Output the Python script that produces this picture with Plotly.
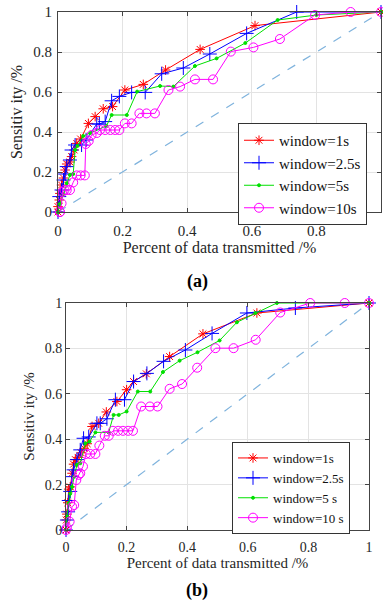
import plotly.graph_objects as go

# ---------------- data: panel (a) ----------------
a_1s_x = [0, 0.0, 0.004, 0.006, 0.011, 0.017, 0.022, 0.027, 0.037, 0.042, 0.05, 0.058, 0.07, 0.094, 0.115, 0.14, 0.169, 0.207, 0.264, 0.333, 0.44, 0.61, 1.0]
a_1s_y = [0, 0.027, 0.06, 0.093, 0.135, 0.17, 0.21, 0.24, 0.25, 0.277, 0.31, 0.343, 0.365, 0.443, 0.477, 0.516, 0.527, 0.61, 0.638, 0.71, 0.813, 0.932, 1.0]

a_25s_x = [0, 0.004, 0.011, 0.017, 0.022, 0.027, 0.037, 0.042, 0.053, 0.073, 0.087, 0.12, 0.128, 0.146, 0.166, 0.19, 0.228, 0.27, 0.321, 0.388, 0.47, 0.584, 0.739, 1.0]
a_25s_y = [0, 0.077, 0.11, 0.16, 0.19, 0.227, 0.26, 0.31, 0.335, 0.335, 0.36, 0.44, 0.44, 0.452, 0.556, 0.578, 0.598, 0.598, 0.691, 0.72, 0.79, 0.893, 1.0, 1.0]

a_5s_x = [0, 0.006, 0.017, 0.027, 0.037, 0.047, 0.053, 0.06, 0.078, 0.1, 0.15, 0.166, 0.213, 0.245, 0.316, 0.357, 0.424, 0.491, 0.58, 0.68, 0.8, 1.0]
a_5s_y = [0, 0.04, 0.09, 0.144, 0.185, 0.19, 0.31, 0.33, 0.38, 0.395, 0.43, 0.485, 0.485, 0.602, 0.63, 0.627, 0.73, 0.768, 0.845, 0.96, 0.985, 1.0]

a_10s_x = [0.006, 0.006, 0.011, 0.014, 0.02, 0.027, 0.037, 0.047, 0.058, 0.07, 0.083, 0.086, 0.095, 0.104, 0.12, 0.13, 0.146, 0.162, 0.177, 0.19, 0.207, 0.228, 0.252, 0.274, 0.3, 0.342, 0.378, 0.424, 0.48, 0.535, 0.605, 0.687, 0.796, 0.906, 1.0]
a_10s_y = [0, 0.0, 0.043, 0.1, 0.11, 0.11, 0.11, 0.148, 0.183, 0.183, 0.183, 0.34, 0.355, 0.385, 0.395, 0.41, 0.41, 0.41, 0.41, 0.41, 0.443, 0.443, 0.493, 0.493, 0.493, 0.61, 0.627, 0.663, 0.663, 0.802, 0.823, 0.865, 0.985, 1.0, 1.0]

# ---------------- data: panel (b) ----------------
b_1s_x = [0, 0.001, 0.003, 0.006, 0.009, 0.014, 0.02, 0.025, 0.031, 0.04, 0.05, 0.06, 0.07, 0.086, 0.108, 0.133, 0.168, 0.2, 0.223, 0.265, 0.342, 0.452, 0.63, 1.0]
b_1s_y = [0, 0.044, 0.07, 0.12, 0.18, 0.19, 0.25, 0.29, 0.31, 0.32, 0.34, 0.36, 0.38, 0.456, 0.47, 0.52, 0.566, 0.618, 0.654, 0.688, 0.764, 0.864, 0.956, 1.0]

b_25s_x = [0, 0.003, 0.007, 0.009, 0.014, 0.02, 0.025, 0.036, 0.047, 0.058, 0.075, 0.102, 0.113, 0.135, 0.163, 0.193, 0.223, 0.267, 0.322, 0.394, 0.482, 0.597, 0.757, 1.0]
b_25s_y = [0, 0.044, 0.08, 0.13, 0.17, 0.235, 0.265, 0.31, 0.353, 0.404, 0.41, 0.47, 0.47, 0.49, 0.574, 0.574, 0.654, 0.69, 0.743, 0.793, 0.866, 0.956, 0.978, 1.0]

b_5s_x = [0, 0.003, 0.009, 0.014, 0.02, 0.027, 0.036, 0.047, 0.064, 0.078, 0.097, 0.141, 0.157, 0.174, 0.2, 0.237, 0.278, 0.32, 0.375, 0.434, 0.507, 0.564, 0.625, 0.696, 1.0]
b_5s_y = [0, 0.06, 0.118, 0.16, 0.19, 0.235, 0.287, 0.294, 0.382, 0.39, 0.43, 0.43, 0.507, 0.507, 0.522, 0.61, 0.61, 0.696, 0.746, 0.783, 0.835, 0.915, 0.956, 1.0, 1.0]

b_10s_x = [0, 0.003, 0.012, 0.02, 0.027, 0.034, 0.042, 0.047, 0.056, 0.066, 0.08, 0.097, 0.11, 0.128, 0.141, 0.155, 0.172, 0.188, 0.205, 0.221, 0.248, 0.277, 0.302, 0.342, 0.383, 0.433, 0.493, 0.553, 0.626, 0.707, 0.806, 0.92, 1.0]
b_10s_y = [0, 0.01, 0.037, 0.103, 0.11, 0.22, 0.243, 0.25, 0.28, 0.335, 0.335, 0.335, 0.372, 0.415, 0.415, 0.437, 0.437, 0.437, 0.437, 0.437, 0.544, 0.544, 0.544, 0.622, 0.643, 0.715, 0.801, 0.801, 0.838, 0.958, 1.0, 1.0, 1.0]

diag_x = [0, 1]
diag_y = [0, 1]

tick_vals = [0, 0.2, 0.4, 0.6, 0.8, 1]
tick_text = ["0", "0.2", "0.4", "0.6", "0.8", "1"]

series_names = ["window=1s", "window=2.5s", "window=5s", "window=10s"]
series_names_b = ["window=1s", "window=2.5s", "window=5 s", "window=10 s"]

# ---------------- styling ----------------
W, H = 383, 604
SERIF = "Liberation Serif, Times New Roman, serif"
styles = [
    dict(color="#FF0000", symbol="asterisk-open", size=8),
    dict(color="#0000FF", symbol="cross-thin-open", size=10),
    dict(color="#00E000", symbol="circle", size=3),
    dict(color="#FF00FF", symbol="circle-open", size=9),
]

fig = go.Figure()

panels = [
    (["x", "y"], [(a_1s_x, a_1s_y), (a_25s_x, a_25s_y), (a_5s_x, a_5s_y), (a_10s_x, a_10s_y)], "legend", series_names),
    (["x2", "y2"], [(b_1s_x, b_1s_y), (b_25s_x, b_25s_y), (b_5s_x, b_5s_y), (b_10s_x, b_10s_y)], "legend2", series_names_b),
]

for (xa, ya), series, leg, names in panels:
    fig.add_trace(go.Scatter(x=diag_x, y=diag_y, mode="lines", xaxis=xa, yaxis=ya,
                             line=dict(color="#7FB3DD", width=1.2, dash="dash"),
                             showlegend=False, hoverinfo="skip"))
    for (sx, sy), st, nm in zip(series, styles, names):
        mk = dict(symbol=st["symbol"], size=st["size"], color=st["color"],
                  line=dict(color=st["color"], width=1))
        fig.add_trace(go.Scatter(x=sx, y=sy, mode="lines+markers", name=nm,
                                 xaxis=xa, yaxis=ya, legend=leg, cliponaxis=False,
                                 line=dict(color=st["color"], width=1), marker=mk))

axis_common = dict(range=[0, 1], tickvals=tick_vals, ticktext=tick_text,
                   showgrid=True, gridcolor="#E3E3E3", gridwidth=1,
                   zeroline=False, showline=True, linecolor="#444444", linewidth=1,
                   mirror="allticks", ticks="inside", ticklen=4, tickcolor="#444444",
                   fixedrange=True, automargin=False)

# panel (a) geometry (pixels)
ax_l, ax_r, ay_t, ay_b = 58, 381, 12, 212
# panel (b) geometry
bx_l, bx_r, by_t, by_b = 66, 369, 303, 530

fig.update_layout(
    width=W, height=H, margin=dict(l=0, r=0, t=0, b=0, autoexpand=False),
    paper_bgcolor="white", plot_bgcolor="white",
    font=dict(family=SERIF, color="#262626"),
    xaxis=dict(axis_common, domain=[ax_l / W, ax_r / W], anchor="y",
               tickfont=dict(size=15, color="#262626"), ticklabelstandoff=5,
               title=dict(text="Percent of data transmitted /%", font=dict(size=16, color="#262626"), standoff=2)),
    yaxis=dict(axis_common, domain=[1 - ay_b / H, 1 - ay_t / H], anchor="x",
               tickfont=dict(size=15, color="#262626"), ticklabelstandoff=2,
               title=dict(text="Sensitiv ity /%", font=dict(size=16, color="#262626"), standoff=6)),
    xaxis2=dict(axis_common, domain=[bx_l / W, bx_r / W], anchor="y2",
                tickfont=dict(size=14, color="#262626"), ticklabelstandoff=4,
                title=dict(text="Percent of data transmitted /%", font=dict(size=15, color="#262626"), standoff=2)),
    yaxis2=dict(axis_common, domain=[1 - by_b / H, 1 - by_t / H], anchor="x2",
                tickfont=dict(size=14, color="#262626"),
                title=dict(text="Sensitiv ity /%", font=dict(size=15, color="#262626"), standoff=6)),
    legend=dict(x=238 / W, y=1 - 123 / H, xanchor="left", yanchor="top",
                bgcolor="white", bordercolor="#333333", borderwidth=1,
                font=dict(family=SERIF, size=15, color="#111111"),
                tracegroupgap=0, itemwidth=30),
    legend2=dict(x=232 / W, y=1 - 442 / H, xanchor="left", yanchor="top",
                 bgcolor="white", bordercolor="#333333", borderwidth=1,
                 font=dict(family=SERIF, size=13, color="#111111"),
                 tracegroupgap=0, itemwidth=30),
    annotations=[
        dict(text="<b>(a)</b>", x=197 / W, y=1 - 281 / H, xref="paper", yref="paper",
             xanchor="center", yanchor="middle",
             showarrow=False, font=dict(family=SERIF, size=18, color="black")),
        dict(text="<b>(b)</b>", x=197 / W, y=1 - 590 / H, xref="paper", yref="paper",
             xanchor="center", yanchor="middle",
             showarrow=False, font=dict(family=SERIF, size=18, color="black")),
    ],
)

fig.write_html("out.html", config={"displayModeBar": False},
               post_script="document.body.style.margin='0';document.body.style.overflow='hidden';")
